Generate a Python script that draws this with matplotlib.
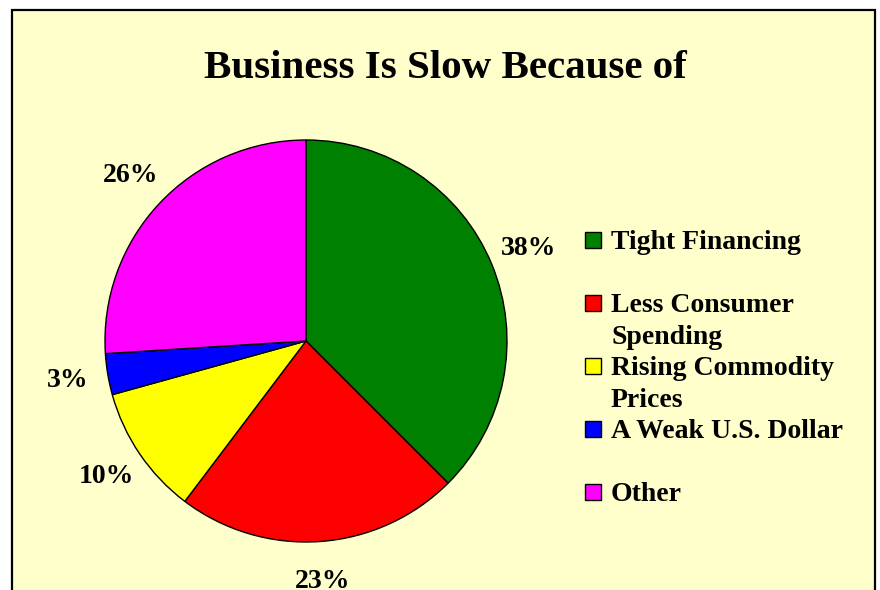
import matplotlib
matplotlib.use('Agg')
import matplotlib.pyplot as plt
from matplotlib.patches import Rectangle

plt.rcParams['font.family'] = ['Liberation Serif', 'DejaVu Serif']
plt.rcParams['font.weight'] = 'bold'

# data
categories = ['Tight Financing', 'Less Consumer\nSpending', 'Rising Commodity\nPrices',
              'A Weak U.S. Dollar', 'Other']
shares = [37.5, 22.8, 10.4, 3.3, 26.0]
pct_labels = ['38%', '23%', '10%', '3%', '26%']
colors = ['#008000', '#FF0000', '#FFFF00', '#0000FF', '#FF00FF']
title = 'Business Is Slow Because of'

W, H = 880, 590
fig = plt.figure(figsize=(W / 100, H / 100), dpi=100)
fig.patch.set_facecolor('white')

# chart area frame (bottom runs off the picture)
fig.patches.append(Rectangle((12 / W, -0.05), (875 - 12) / W, (H - 10) / H + 0.05,
                             transform=fig.transFigure, facecolor='#FFFFCC',
                             edgecolor='black', lw=1.6, zorder=-5))

# pie: centre (306, 341) px, radius 201 px
cx, cy, r = 306, H - 341, 201
side = 3 * r
ax = fig.add_axes([(cx - side / 2) / W, (cy - side / 2) / H, side / W, side / H])
ax.set_facecolor('none')
ax.set_zorder(2)
lab_iter = iter(pct_labels)
wedges, texts, autotexts = ax.pie(shares, colors=colors, startangle=90, counterclock=False,
                                  autopct=lambda p: next(lab_iter), pctdistance=1.2,
                                  wedgeprops=dict(edgecolor='black', linewidth=1.0))
for t in autotexts:
    t.set_fontsize(20)
    t.set_fontweight('bold')
    t.set_clip_on(False)
ax.set_xlim(-1.5, 1.5)
ax.set_ylim(-1.5, 1.5)
ax.axis('off')

fig.text(445 / W, (H - 78) / H, title, ha='center', va='baseline',
         fontsize=29.5, fontweight='bold')

# legend drawn by hand so the swatch lines up with the first text line
sq = 16
for i, (lab, col) in enumerate(zip(categories, colors)):
    yc = 240 + i * 63
    fig.patches.append(Rectangle((585 / W, (H - yc - sq / 2) / H), sq / W, sq / H,
                                 transform=fig.transFigure, facecolor=col,
                                 edgecolor='black', lw=1.0))
    fig.text(611 / W, (H - yc + 10) / H, lab, ha='left', va='top',
             fontsize=20, fontweight='bold', linespacing=1.35)

fig.savefig('out.png', dpi=100, facecolor=fig.get_facecolor())
